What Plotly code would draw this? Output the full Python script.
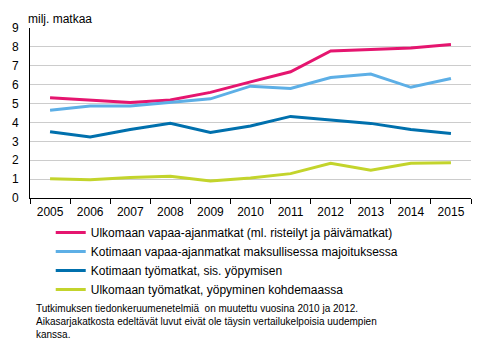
import plotly.graph_objects as go

years = ["2005", "2006", "2007", "2008", "2009", "2010", "2011", "2012", "2013", "2014", "2015"]
ulk_vapaa = [5.31, 5.19, 5.06, 5.19, 5.59, 6.15, 6.68, 7.78, 7.85, 7.94, 8.13]
kot_vapaa = [4.64, 4.87, 4.87, 5.06, 5.25, 5.92, 5.80, 6.38, 6.56, 5.86, 6.33]
kot_tyo = [3.51, 3.23, 3.63, 3.95, 3.47, 3.81, 4.32, 4.13, 3.95, 3.63, 3.42]
ulk_tyo = [1.02, 0.97, 1.09, 1.15, 0.90, 1.06, 1.29, 1.84, 1.47, 1.84, 1.87]

names = [
    "Ulkomaan vapaa-ajanmatkat (ml. risteilyt ja päivämatkat)",
    "Kotimaan vapaa-ajanmatkat maksullisessa majoituksessa",
    "Kotimaan työmatkat, sis. yöpymisen",
    "Ulkomaan työmatkat, yöpyminen kohdemaassa",
]
colors = ["#E5156F", "#5DAFE6", "#0070AD", "#C3D42C"]
series = [ulk_vapaa, kot_vapaa, kot_tyo, ulk_tyo]

FONT = "Arial, Liberation Sans, sans-serif"

fig = go.Figure()
for name, vals, col in zip(names, series, colors):
    fig.add_trace(go.Scatter(x=years, y=vals, name=name, mode="lines",
                             line=dict(color=col, width=3)))

fig.update_layout(
    width=491, height=340,
    margin=dict(l=28, r=20, t=28, b=142),
    paper_bgcolor="white", plot_bgcolor="white",
    font=dict(family=FONT, size=12, color="black"),
    showlegend=True,
    legend=dict(orientation="v", x=0.047, xanchor="left", y=-0.118, yanchor="top",
                font=dict(family=FONT, size=12, color="black"),
                bgcolor="rgba(0,0,0,0)", itemwidth=30, traceorder="normal"),
    annotations=[
        dict(text="milj. matkaa", xref="paper", yref="paper", x=-0.01, y=1.053,
             xanchor="left", yanchor="middle", showarrow=False,
             font=dict(family=FONT, size=12, color="black")),
        dict(text="Tutkimuksen tiedonkeruumenetelmiä  on muutettu vuosina 2010 ja 2012.<br>"
                  "Aikasarjakatkosta edeltävät luvut eivät ole täysin vertailukelpoisia uudempien<br>"
                  "kanssa.",
             xref="paper", yref="paper", x=0.009, y=-0.605, xanchor="left", yanchor="top",
             align="left", showarrow=False,
             font=dict(family=FONT, size=10, color="black")),
    ],
)
fig.update_xaxes(type="category", tickson="boundaries", ticks="outside", ticklen=5,
                 tickcolor="black", showline=True, linecolor="black", linewidth=1,
                 showgrid=False, tickfont=dict(size=12), range=[-0.5, 10.5],
                 ticklabelstandoff=3)
fig.update_yaxes(range=[0, 9], dtick=1, showline=True, linecolor="black", linewidth=1,
                 showgrid=True, gridcolor="#CCCCCC", gridwidth=1, zeroline=False,
                 ticks="", ticklabelstandoff=8, tickfont=dict(size=12))

fig.write_html("out.html")
